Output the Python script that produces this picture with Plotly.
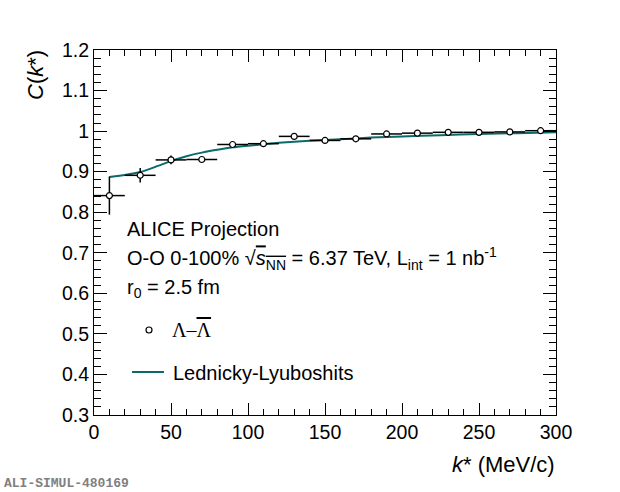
import plotly.graph_objects as go

# Data: Lambda - anti-Lambda correlation function (projection)
k_star = [10, 30, 50, 70, 90, 110, 130, 150, 170, 190, 210, 230, 250, 270, 290]
c_val = [0.841, 0.891, 0.929, 0.930, 0.967, 0.969, 0.987, 0.977, 0.981, 0.993,
         0.995, 0.997, 0.997, 0.998, 1.001]
c_err = [0.047, 0.018, 0.011, 0.005, 0.004, 0.003, 0.003, 0.003, 0.003, 0.003,
         0.003, 0.003, 0.003, 0.003, 0.003]
k_halfbin = [10] * 15

# Lednicky-Lyuboshits model curve
fit_k = [10, 20, 30, 40, 50, 60, 70, 80, 90, 100, 120, 140, 160, 180, 200, 225, 250, 275, 300]
fit_c = [0.887, 0.892, 0.899, 0.912, 0.926, 0.938, 0.947, 0.954, 0.960, 0.964, 0.971,
         0.976, 0.980, 0.984, 0.987, 0.990, 0.993, 0.995, 0.997]

x_ticks = [0, 50, 100, 150, 200, 250, 300]
y_ticks = [0.3, 0.4, 0.5, 0.6, 0.7, 0.8, 0.9, 1.0, 1.1, 1.2]
y_tick_text = ["0.3", "0.4", "0.5", "0.6", "0.7", "0.8", "0.9", "1", "1.1", "1.2"]

LINE_COLOR = "#0b6a6a"
FONT = "Liberation Sans, Arial, sans-serif"
TXT = 20

W, H = 620, 492
L, R, T, B = 94, 556, 50, 415  # plot area in window pixels


def px(x):
    return (x - L) / (R - L)


def py(y):
    return (B - y) / (B - T)


fig = go.Figure()

fig.add_trace(go.Scatter(
    x=fit_k, y=fit_c, mode="lines",
    line=dict(color=LINE_COLOR, width=2, shape="spline", smoothing=0.5),
    showlegend=False, hoverinfo="skip",
))

fig.add_trace(go.Scatter(
    x=k_star, y=c_val, mode="markers",
    marker=dict(symbol="circle", size=6, color="white",
                line=dict(color="black", width=1.2)),
    error_y=dict(type="data", array=c_err, color="black", thickness=1.5, width=0),
    error_x=dict(type="data", array=k_halfbin, color="black", thickness=1.5, width=0),
    showlegend=False,
))

axis_common = dict(
    showgrid=False, zeroline=False, showline=True, linecolor="black", linewidth=1,
    mirror="allticks", ticks="inside", tickcolor="black", tickwidth=1,
    tickfont=dict(family=FONT, size=19.5, color="black"),
)

fig.update_xaxes(
    range=[0, 300], tickvals=x_ticks, ticklen=12,
    minor=dict(dtick=10, ticks="inside", ticklen=6, tickcolor="black", tickwidth=1),
    **axis_common,
)
fig.update_yaxes(
    range=[0.3, 1.2], tickvals=y_ticks, ticktext=y_tick_text, ticklen=13,
    minor=dict(dtick=0.02, ticks="inside", ticklen=7, tickcolor="black", tickwidth=1),
    **axis_common,
)

ann = []
# axis titles (ROOT style, right/top aligned)
ann.append(dict(text="<i>k</i>* (MeV/c)", x=px(557), y=py(464), xref="paper", yref="paper",
                xanchor="right", yanchor="middle", showarrow=False,
                font=dict(family=FONT, size=22, color="black")))
ann.append(dict(text="<i>C</i>(<i>k</i>*)", x=px(35), y=py(48), xref="paper", yref="paper",
                xanchor="center", yanchor="top", textangle=-90, showarrow=False,
                font=dict(family=FONT, size=22, color="black")))
# text block
ann.append(dict(text="ALICE Projection", x=px(125), y=py(229), xref="paper", yref="paper",
                xanchor="left", yanchor="middle", showarrow=False,
                font=dict(family=FONT, size=TXT, color="black")))
ann.append(dict(text="O-O 0-100% √<span style='text-decoration:overline'><i>s</i><sub>NN</sub></span> = 6.37 TeV, L<sub>int</sub> = 1 nb<sup>-1</sup>",
                x=px(125), y=py(258), xref="paper", yref="paper",
                xanchor="left", yanchor="middle", showarrow=False,
                font=dict(family=FONT, size=TXT, color="black")))
ann.append(dict(text="r<sub>0</sub> = 2.5 fm", x=px(125), y=py(288), xref="paper", yref="paper",
                xanchor="left", yanchor="middle", showarrow=False,
                font=dict(family=FONT, size=TXT, color="black")))
# legend entries
ann.append(dict(text="Λ–<span style='text-decoration:overline'>Λ</span>", x=px(170), y=py(330),
                xref="paper", yref="paper", xanchor="left", yanchor="middle", showarrow=False,
                font=dict(family="Liberation Serif, serif", size=TXT, color="black")))
ann.append(dict(text="Lednicky-Lyuboshits", x=px(171), y=py(373), xref="paper", yref="paper",
                xanchor="left", yanchor="middle", showarrow=False,
                font=dict(family=FONT, size=TXT, color="black")))
# watermark label
ann.append(dict(text="<b>ALI-SIMUL-480169</b>", x=px(2), y=py(483), xref="paper", yref="paper",
                xanchor="left", yanchor="middle", showarrow=False,
                font=dict(family="Liberation Mono, Courier New, monospace", size=13, color="#808080")))

shapes = [
    dict(type="line", xref="paper", yref="paper", x0=px(132), x1=px(164), y0=py(372), y1=py(372),
         line=dict(color=LINE_COLOR, width=2)),
    dict(type="circle", xref="paper", yref="paper", xsizemode="pixel", ysizemode="pixel",
         xanchor=px(149), yanchor=py(330), x0=-3, x1=3, y0=-3, y1=3,
         line=dict(color="black", width=1.2), fillcolor="white"),
]

fig.update_layout(
    width=W, height=H,
    margin=dict(l=L, r=W - R, t=T, b=H - B, pad=0),
    paper_bgcolor="white", plot_bgcolor="white",
    font=dict(family=FONT, color="black"),
    annotations=ann, shapes=shapes, showlegend=False,
)

fig.write_html("out.html", config={"displayModeBar": False},
               post_script="document.body.style.margin='0px';")
